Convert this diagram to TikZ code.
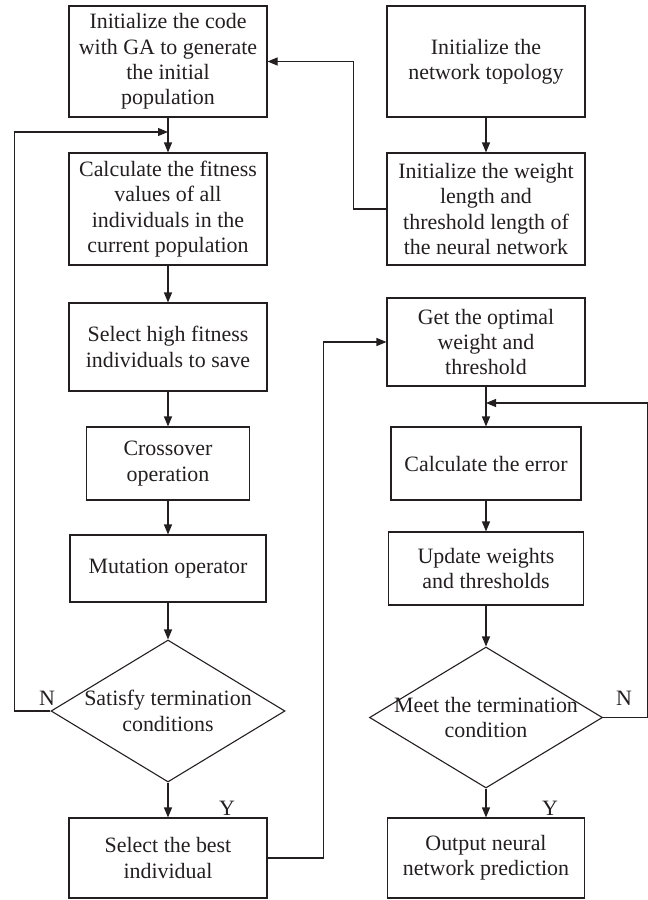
\documentclass[tikz,border=0pt]{standalone}
\usepackage{fontspec}
\setmainfont{Liberation Serif}
\usetikzlibrary{arrows.meta,shapes.geometric}
\definecolor{ink}{HTML}{231F20}
\begin{document}
\begin{tikzpicture}[x=1bp,y=-1bp,
  every node/.style={font=\fontsize{22}{25.5}\selectfont, text=ink},
  box/.style={draw=ink, line width=1.1bp, align=center, inner sep=0pt},
  dia/.style={draw=ink, line width=1.1bp, diamond, inner sep=0pt},
  dtext/.style={align=center, inner sep=0pt},
  arr/.style={draw=ink, line width=1.1bp, -{Triangle[length=10bp,width=8bp]}},
  lbl/.style={inner sep=0pt}]
\useasboundingbox (0,0) rectangle (648,900);
% left column
\node[box, minimum width=198bp, minimum height=111bp] (b1) at (168,61.5) {Initialize the code\\with GA to generate\\the initial\\population};
\node[box, minimum width=198bp, minimum height=112bp] (b2) at (168,209) {Calculate the fitness\\values of all\\individuals in the\\current population};
\node[box, minimum width=198bp, minimum height=88bp] (b3) at (168,347) {Select high fitness\\individuals to save};
\node[box, minimum width=163bp, minimum height=73bp] (b4) at (168,463.5) {Crossover\\operation};
\node[box, minimum width=196bp, minimum height=67bp] (b5) at (168,568.5) {Mutation operator};
\node[dia, minimum width=234bp, minimum height=142bp] (d1) at (168,711) {};
\node[dtext] (d1t) at (168,711) {Satisfy termination\\conditions};
\node[box, minimum width=198bp, minimum height=80bp] (b6) at (168,858) {Select the best\\individual};
% right column
\node[box, minimum width=198bp, minimum height=111bp] (r1) at (486,61.5) {Initialize the\\network topology};
\node[box, minimum width=198bp, minimum height=112bp] (r2) at (486,209) {Initialize the weight\\length and\\threshold length of\\the neural network};
\node[box, minimum width=198bp, minimum height=88bp] (r3) at (486,342) {Get the optimal\\weight and\\threshold};
\node[box, minimum width=190bp, minimum height=73bp] (r4) at (486,463.5) {Calculate the error};
\node[box, minimum width=195bp, minimum height=73bp] (r5) at (486,568.5) {Update weights\\and thresholds};
\node[dia, minimum width=233bp, minimum height=141bp] (d2) at (486,717.5) {};
\node[dtext] (d2t) at (486,717.5) {Meet the termination\\condition};
\node[box, minimum width=197bp, minimum height=80bp] (r6) at (486,858) {Output neural\\network prediction};
% labels
\node[lbl] (nL) at (47,698) {N};
\node[lbl] (yL) at (227,808) {Y};
\node[lbl] (nR) at (624,698) {N};
\node[lbl] (yR) at (550,808) {Y};
% junctions
\coordinate (j1) at (168,132);
\coordinate (j2) at (486,403);
% connectors left
\draw[arr] (b1.south) -- (b2.north);
\draw[arr] (b2.south) -- (b3.north);
\draw[arr] (b3.south) -- (b4.north);
\draw[arr] (b4.south) -- (b5.north);
\draw[arr] (b5.south) -- (d1.north);
\draw[arr] (d1.south) -- (b6.north);
\draw[arr] (d1.west) -- ++(-36,0) |- (j1);
\draw[arr] (b6.east) -- ++(56,0) |- (r3.west);
% connectors right
\draw[arr] (r1.south) -- (r2.north);
\draw[arr] (r2.west) -- ++(-33,0) |- (b1.east);
\draw[arr] (r3.south) -- (r4.north);
\draw[arr] (r4.south) -- (r5.north);
\draw[arr] (r5.south) -- (d2.north);
\draw[arr] (d2.south) -- (r6.north);
\draw[arr] (d2.east) -- ++(44,0) |- (j2);
\end{tikzpicture}
\end{document}
